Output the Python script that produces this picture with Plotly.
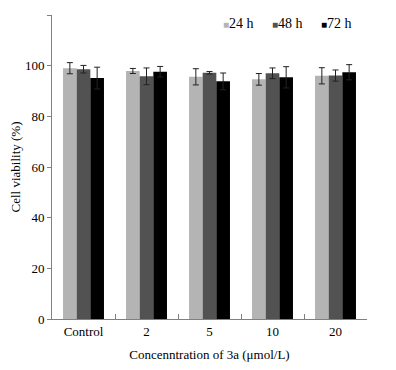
import plotly.graph_objects as go

categories = ["Control", "2", "5", "10", "20"]
series_names = ["24 h", "48 h", "72 h"]
v24 = [99.0, 97.9, 95.6, 94.6, 96.0]
v48 = [98.6, 95.8, 97.2, 97.0, 96.1]
v72 = [95.1, 97.6, 93.8, 95.4, 97.4]
e24 = [2.2, 1.0, 3.2, 2.3, 3.2]
e48 = [1.5, 3.3, 0.5, 2.1, 2.2]
e72 = [4.3, 2.1, 3.3, 4.2, 3.0]
colors = ["#b4b4b4", "#525252", "#000000"]
y_ticks = [0, 20, 40, 60, 80, 100, 120]

FONT = "Times New Roman, Liberation Serif, serif"

# page has an 8px body margin; figure sized so it fits the window
W, H = 388, 362
L, T = 44, 7
PW, PH = 315, 304
R, B = W - L - PW, H - T - PH

fig = go.Figure()
for name, vals, errs, col in zip(series_names, [v24, v48, v72], [e24, e48, e72], colors):
    fig.add_trace(go.Bar(
        x=categories, y=vals, name=name,
        marker=dict(color=col, line=dict(width=0)),
        error_y=dict(type="data", array=errs, visible=True, color="#222222", thickness=1, width=3),
        showlegend=False,
    ))

# legend drawn as text annotations (compact square + label); positions in figure px
legend_px = [213, 262, 311]
legend_py = 16
for name, col, px in zip(series_names, colors, legend_px):
    fig.add_annotation(
        xref="paper", yref="paper", x=(px - L) / PW, y=1 - (legend_py - T) / PH,
        xanchor="left", yanchor="middle", showarrow=False,
        text=f'<span style="color:{col};font-size:10px">■</span>{name}',
        font=dict(family=FONT, size=14, color="black"),
    )

fig.update_layout(
    width=W, height=H,
    margin=dict(l=L, r=R, t=T, b=B, autoexpand=False),
    paper_bgcolor="white", plot_bgcolor="white",
    barmode="group", bargap=0.35, bargroupgap=0,
    font=dict(family=FONT, size=13, color="black"),
    xaxis=dict(showline=True, linecolor="#808080", linewidth=1,
               ticks="inside", ticklen=5, tickcolor="#808080", tickangle=0,
               tickson="boundaries", showgrid=False,
               title=dict(text="Concenntration of 3a (μmol/L)", standoff=12, font=dict(family=FONT, size=13))),
    yaxis=dict(range=[0, 120], tickvals=y_ticks, showline=True, linecolor="#808080", linewidth=1,
               ticks="outside", ticklen=4, tickcolor="#808080", showgrid=False, zeroline=False,
               title=dict(text="Cell viability (%)", standoff=8, font=dict(family=FONT, size=13))),
)

fig.write_html("out.html")
